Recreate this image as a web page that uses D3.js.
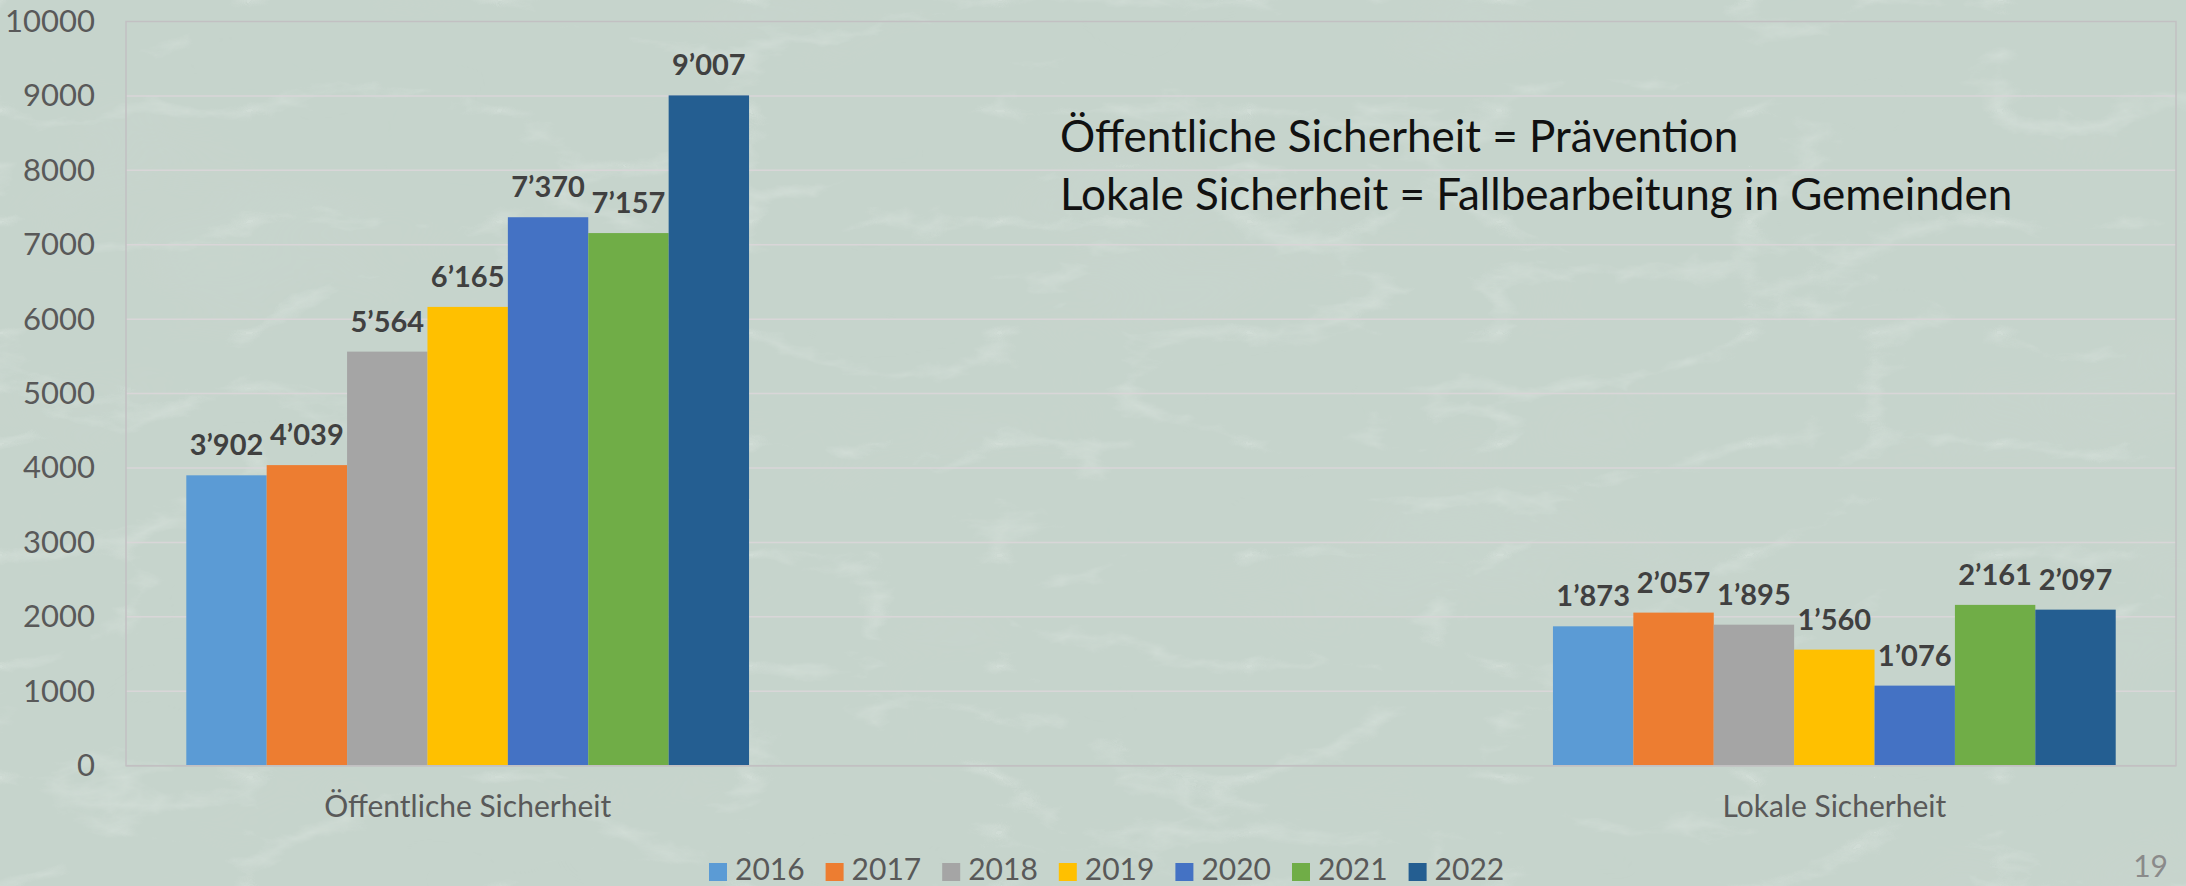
<!DOCTYPE html>
<html>
<head>
<meta charset="utf-8">
<script src="https://cdn.jsdelivr.net/npm/d3@7"></script>
<style>
  html, body { margin: 0; padding: 0; background: #c8d6ce; }
  svg { display: block; }
  text { font-family: Lato, "Open Sans", sans-serif; }
</style>
</head>
<body>
<svg id="chart" width="2186" height="886"></svg>
<script>
// ---- data ----
const categories = ["Öffentliche Sicherheit", "", "Lokale Sicherheit"];
const years = ["2016", "2017", "2018", "2019", "2020", "2021", "2022"];
const oeffentliche = [3902, 4039, 5564, 6165, 7370, 7157, 9007];
const lokale = [1873, 2057, 1895, 1560, 1076, 2161, 2097];
const yTicks = [0, 1000, 2000, 3000, 4000, 5000, 6000, 7000, 8000, 9000, 10000];
const colors = ["#5B9BD5", "#ED7D31", "#A5A5A5", "#FFC000", "#4472C4", "#70AD47", "#245E91"];
const noteLines = ["Öffentliche Sicherheit = Prävention", "Lokale Sicherheit = Fallbearbeitung in Gemeinden"];
const pageNumber = "19";

const seriesByCategory = {
  "Öffentliche Sicherheit": oeffentliche,
  "Lokale Sicherheit": lokale
};

const W = 2186, H = 886;
const plot = { left: 126, right: 2176, top: 21.5, bottom: 765.7 };

const svg = d3.select("#chart");

// ---- background texture ----
const defs = svg.append("defs");
const f = defs.append("filter").attr("id", "marble").attr("x", 0).attr("y", 0).attr("width", "100%").attr("height", "100%");
f.append("feTurbulence").attr("type", "turbulence").attr("baseFrequency", "0.004 0.009").attr("numOctaves", 6).attr("seed", 11).attr("result", "n");
f.append("feColorMatrix").attr("in", "n").attr("type", "matrix")
  .attr("values", "0 0 0 0 0.90  0 0 0 0 0.95  0 0 0 0 0.92  -2.2 0 0 0 0.42")
  .attr("result", "veins");
f.append("feComposite").attr("in", "veins").attr("in2", "SourceGraphic").attr("operator", "over");

const f2 = defs.append("filter").attr("id", "speck").attr("x", 0).attr("y", 0).attr("width", "100%").attr("height", "100%");
f2.append("feTurbulence").attr("type", "fractalNoise").attr("baseFrequency", "0.003 0.006").attr("numOctaves", 3).attr("seed", 3).attr("result", "t");
f2.append("feColorMatrix").attr("in", "t").attr("type", "matrix")
  .attr("values", "0 0 0 0 0.70  0 0 0 0 0.76  0 0 0 0 0.72  1.2 0 0 0 -0.4");

svg.append("rect").attr("width", W).attr("height", H).attr("fill", "#c6d4cc");
svg.append("rect").attr("width", W).attr("height", H).attr("fill", "#c6d4cc").attr("filter", "url(#speck)").attr("opacity", 0.35);
svg.append("rect").attr("width", W).attr("height", H).attr("fill", "#c6d4cc").attr("filter", "url(#marble)").attr("opacity", 0.5);

// ---- scales ----
const x0 = d3.scaleBand().domain(categories).range([plot.left, plot.right]).paddingInner(0).paddingOuter(0);
const x1 = d3.scaleBand().domain(years).range([0, x0.bandwidth()]).paddingInner(0).paddingOuter(0.75);
const y = d3.scaleLinear().domain([0, 10000]).range([plot.bottom, plot.top]);

const fmt = d3.formatLocale({ decimal: ".", thousands: "’", grouping: [3], currency: ["", ""] }).format(",d");

// ---- gridlines ----
svg.append("g").selectAll("line").data(yTicks.filter(d => d > 0 && d < 10000)).join("line")
  .attr("x1", plot.left).attr("x2", plot.right)
  .attr("y1", d => y(d)).attr("y2", d => y(d))
  .attr("stroke", "#d9d6d8").attr("stroke-width", 1.5);

// plot area border
svg.append("rect")
  .attr("x", plot.left).attr("y", y(10000))
  .attr("width", plot.right - plot.left).attr("height", y(0) - y(10000))
  .attr("fill", "none").attr("stroke", "#c2c0c2").attr("stroke-width", 1.5);

// ---- y axis ----
const yAxis = svg.append("g").attr("transform", `translate(${plot.left},0)`)
  .call(d3.axisLeft(y).tickValues(yTicks).tickSize(0).tickPadding(31).tickFormat(d3.format("d")));
yAxis.select(".domain").remove();
yAxis.selectAll("text").attr("font-size", 31).attr("fill", "#595959").attr("font-family", "Lato, sans-serif");

// ---- bars ----
const groups = svg.append("g").selectAll("g")
  .data(categories.filter(c => seriesByCategory[c]))
  .join("g")
  .attr("transform", c => `translate(${x0(c)},0)`);

groups.selectAll("rect")
  .data(c => seriesByCategory[c].map((v, i) => ({ year: years[i], value: v, color: colors[i] })))
  .join("rect")
  .attr("x", d => x1(d.year))
  .attr("width", x1.bandwidth())
  .attr("y", d => y(d.value))
  .attr("height", d => y(0) - y(d.value))
  .attr("fill", d => d.color);

groups.selectAll("text.lbl")
  .data(c => seriesByCategory[c].map((v, i) => ({ year: years[i], value: v })))
  .join("text")
  .attr("class", "lbl")
  .attr("x", d => x1(d.year) + x1.bandwidth() / 2)
  .attr("y", d => y(d.value) - 20)
  .attr("text-anchor", "middle")
  .attr("font-size", 29)
  .attr("font-weight", "bold")
  .attr("fill", "#404040")
  .text(d => fmt(d.value));

// bottom axis line
svg.append("line")
  .attr("x1", plot.left).attr("x2", plot.right)
  .attr("y1", y(0)).attr("y2", y(0))
  .attr("stroke", "#c2c0c2").attr("stroke-width", 1.5);

// ---- category labels ----
svg.append("g").selectAll("text").data(categories.filter(c => c !== "")).join("text")
  .attr("x", c => x0(c) + x0.bandwidth() / 2)
  .attr("y", 817)
  .attr("text-anchor", "middle")
  .attr("font-size", 30)
  .attr("fill", "#595959")
  .text(c => c);

// ---- legend ----
const legendStep = 116.6;
const lx = d3.scaleBand().domain(years).range([709, 709 + legendStep * years.length]);
const lg = svg.append("g").selectAll("g").data(years).join("g")
  .attr("transform", d => `translate(${lx(d)},0)`);
lg.append("rect").attr("x", 0).attr("y", 863).attr("width", 18).attr("height", 18)
  .attr("fill", (d, i) => colors[i]);
lg.append("text").attr("x", 26).attr("y", 880).attr("font-size", 30).attr("fill", "#595959").text(d => d);

// ---- annotation ----
svg.append("g").selectAll("text").data(noteLines).join("text")
  .attr("x", 1060)
  .attr("y", (d, i) => 152 + i * 58)
  .attr("font-size", 44)
  .attr("fill", "#111111")
  .text(d => d);

// ---- page number ----
svg.append("text").attr("x", 2168).attr("y", 877).attr("text-anchor", "end")
  .attr("font-size", 30).attr("fill", "#8a8a8a").text(pageNumber);
</script>
</body>
</html>
